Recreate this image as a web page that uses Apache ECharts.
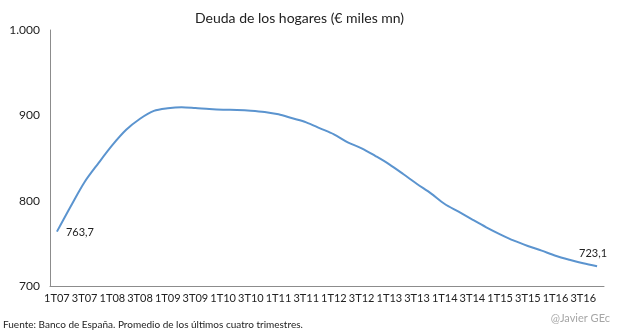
<!DOCTYPE html>
<html>
<head>
<meta charset="utf-8">
<script src="https://cdn.jsdelivr.net/npm/echarts@6/dist/echarts.min.js"></script>
<style>
  html, body { margin: 0; padding: 0; background: #fff; }
  #chart { width: 622px; height: 335px; }
</style>
</head>
<body>
<div id="chart"></div>
<script>
// Quarterly household debt, four-quarter average (€ thousand million)
const years = ['07', '08', '09', '10', '11', '12', '13', '14', '15', '16'];
const quarters = [];
years.forEach(y => { for (let q = 1; q <= 4; q++) quarters.push(q + 'T' + y); });

const debt = [
  763.7, 793.5, 821.9, 844.0, 865.0, 883.0, 896.0, 905.2,
  908.3, 909.6, 908.6, 907.4, 906.6, 906.3, 905.5, 904.0,
  901.2, 896.5, 891.8, 884.8, 877.8, 868.4, 861.4, 852.3,
  842.6, 831.3, 819.5, 808.6, 796.1, 787.1, 777.8, 768.8,
  760.6, 753.1, 746.9, 741.4, 735.5, 730.8, 726.6, 723.1
];

const yTicks = { min: 700, max: 1000, step: 100 };

const font = 'Lato, "Open Sans", sans-serif';
const chart = echarts.init(document.getElementById('chart'));
const last = debt.length - 1;

chart.setOption({
  animation: false,
  title: {
    text: 'Deuda de los hogares (€ miles mn)',
    left: 190,
    top: 6,
    textStyle: { fontFamily: font, fontSize: 14, fontWeight: 'normal', color: '#222' }
  },
  grid: { left: 50, right: 18, top: 30, bottom: 49, containLabel: false },
  xAxis: {
    type: 'category',
    data: quarters,
    boundaryGap: true,
    axisLine: { lineStyle: { color: '#8c8c8c' } },
    axisTick: { show: false },
    axisLabel: { interval: 1, fontFamily: font, fontSize: 11, color: '#222', margin: 7 }
  },
  yAxis: {
    type: 'value',
    min: yTicks.min,
    max: yTicks.max,
    interval: yTicks.step,
    axisLine: { show: true, lineStyle: { color: '#8c8c8c' } },
    axisTick: { show: false },
    splitLine: { show: false },
    axisLabel: {
      fontFamily: font, fontSize: 12, color: '#222', margin: 10,
      formatter: v => v >= 1000 ? (v / 1000).toFixed(3) : String(v)
    }
  },
  series: [{
    type: 'line',
    data: debt.map((v, i) => {
      const p = { value: v };
      if (i === 0) {
        p.label = { show: true, position: 'right', offset: [4, 1] };
      } else if (i === last) {
        p.label = { show: true, position: 'top', offset: [-4, -2] };
      }
      return p;
    }),
    smooth: 0.3,
    symbol: 'circle',
    symbolSize: 0,
    showSymbol: true,
    itemStyle: { color: '#5b94cf' },
    lineStyle: { color: '#5b94cf', width: 2 },
    label: {
      fontFamily: font, fontSize: 11, color: '#222',
      formatter: p => p.value.toFixed(1).replace('.', ',')
    }
  }],
  graphic: [
    {
      type: 'text', left: 3, top: 320,
      style: { text: 'Fuente: Banco de España. Promedio de los últimos cuatro trimestres.', fontFamily: font, fontSize: 10, fill: '#222' }
    },
    {
      type: 'text', right: 12, top: 313,
      style: { text: '@Javier GEc', fontFamily: font, fontSize: 11, fill: '#a6a6a6' }
    }
  ]
});
</script>
</body>
</html>
